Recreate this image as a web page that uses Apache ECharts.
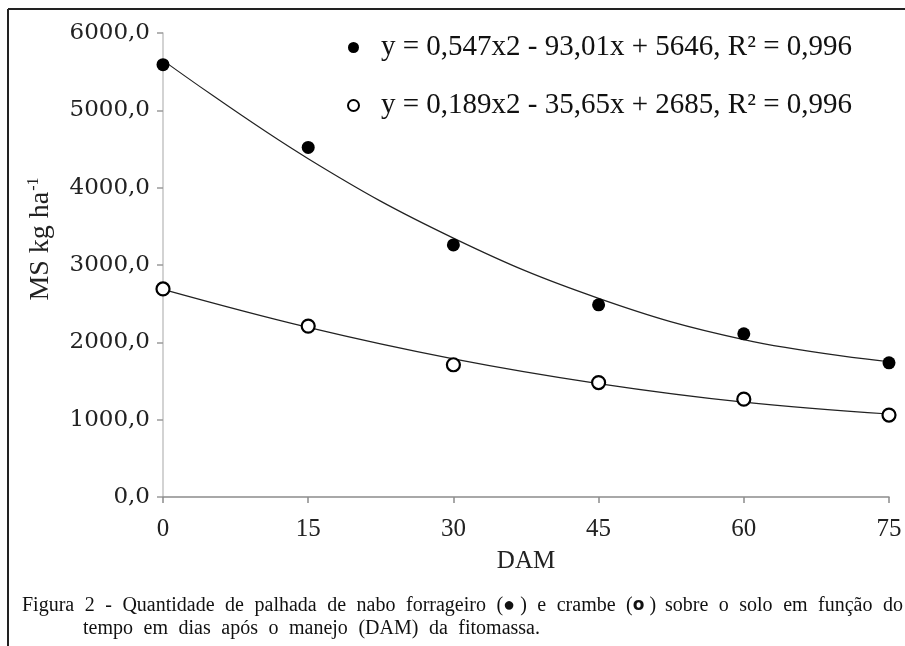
<!DOCTYPE html>
<html>
<head>
<meta charset="utf-8">
<script src="https://cdn.jsdelivr.net/npm/echarts@6/dist/echarts.min.js"></script>
<style>
  html, body { margin: 0; padding: 0; background: #fff; }
  #chart { width: 905px; height: 646px; }
</style>
</head>
<body>
<div id="chart"></div>
<script>
// ---- data ----
const days = [0, 15, 30, 45, 60, 75];
const naboObserved = [5590, 4520, 3260, 2485, 2110, 1735];
const crambeObserved = [2690, 2210, 1710, 1480, 1265, 1060];
const naboTrend = [5646, 4374, 3348, 2569, 2036, 1749];
const crambeTrend = [2685, 2193, 1786, 1466, 1226, 1073];
const naboLabel = 'y = 0,547x2 - 93,01x + 5646, R² = 0,996';
const crambeLabel = 'y = 0,189x2 - 35,65x + 2685, R² = 0,996';
const xTicks = [0, 15, 30, 45, 60, 75];
const yTicks = [0, 1000, 2000, 3000, 4000, 5000, 6000];
const xTitle = 'DAM';
const yTitleMain = 'MS kg ha';
const yTitleSup = '-1';
const captionLine1 = 'Figura 2 - Quantidade de palhada de nabo forrageiro (●\u00a0) e crambe (o\u00a0) sobre o solo em função do';
const captionLine2 = 'tempo em dias após o manejo (DAM) da fitomassa.';

const pairs = (xs, ys) => xs.map((x, i) => [x, ys[i]]);
const SERIF = '"Liberation Serif", "Times New Roman", serif';

// caption words laid out (justified) using canvas text measurement
const captionFont = 20;
const ctx = document.createElement('canvas').getContext('2d');
ctx.font = captionFont + 'px ' + SERIF;
function captionWords(line, x0, x1, y) {
  const words = line.split(' ');
  const widths = words.map(w => ctx.measureText(w).width);
  const total = widths.reduce((a, b) => a + b, 0);
  const gap = (x1 - x0 - total) / (words.length - 1);
  let x = x0;
  return words.map((w, i) => {
    const isBoldO = w === '(o\u00a0)';
    const el = {
      type: 'text', left: x, top: y - captionFont / 2 - 2, silent: true,
      style: isBoldO ? {
        text: '{n|(}{b|o}{n|\u00a0)}',
        rich: {
          n: { fontFamily: SERIF, fontSize: captionFont, fill: '#111' },
          b: { fontFamily: '"DejaVu Sans", sans-serif', fontWeight: 'bold', fontSize: captionFont - 3, fill: '#111' }
        }
      } : { text: w, fontFamily: SERIF, fontSize: captionFont, fill: '#111' }
    };
    x += widths[i] + gap;
    return el;
  });
}

const chart = echarts.init(document.getElementById('chart'), null, { renderer: 'canvas' });
chart.setOption({
  backgroundColor: '#fff',
  animation: false,
  grid: { left: 163, right: 16, top: 33, bottom: 149, containLabel: false },
  legend: {
    orient: 'vertical',
    left: 347, top: 33,
    padding: 0,
    itemGap: 29,
    itemWidth: 11, itemHeight: 11,
    selectedMode: false,
    data: [
      { name: naboLabel, icon: 'circle', itemStyle: { color: '#000', borderWidth: 0 } },
      { name: crambeLabel, icon: 'emptyCircle', itemStyle: { color: '#000', borderColor: '#000', borderWidth: 1 } }
    ],
    textStyle: { fontFamily: SERIF, fontSize: 29, color: '#111', padding: [0, 0, 0, 17] }
  },
  xAxis: {
    type: 'value', min: xTicks[0], max: xTicks[xTicks.length - 1], interval: 15,
    name: xTitle, nameLocation: 'middle', nameGap: 52,
    nameTextStyle: { fontFamily: SERIF, fontSize: 25, color: '#222' },
    axisLine: { show: true, lineStyle: { color: '#8c8c8c', width: 1.5 } },
    axisTick: { show: true, length: 6, lineStyle: { color: '#8c8c8c', width: 1.5 } },
    axisLabel: { fontFamily: SERIF, fontSize: 25, color: '#222', margin: 20,
      formatter: v => xTicks.includes(v) ? String(v) : '' },
    splitLine: { show: false }
  },
  yAxis: {
    type: 'value', min: yTicks[0], max: yTicks[yTicks.length - 1], interval: 1000,
    name: '{m|' + yTitleMain + '}{s|' + yTitleSup + '}',
    nameLocation: 'middle', nameGap: 108,
    nameTextStyle: {
      padding: [0, 0, 0, 52],
      rich: {
        m: { fontFamily: SERIF, fontSize: 28, color: '#222' },
        s: { fontFamily: SERIF, fontSize: 16, color: '#222', padding: [0, 0, 13, 1] }
      }
    },
    axisLine: { show: true, lineStyle: { color: '#c4c4c4', width: 1.5 } },
    axisTick: { show: true, length: 6, lineStyle: { color: '#9a9a9a', width: 1.5 } },
    axisLabel: { fontFamily: '"DejaVu Serif", serif', fontSize: 23, color: '#222', margin: 13,
      formatter: v => v.toFixed(1).replace('.', ',') },
    splitLine: { show: false }
  },
  series: [
    {
      name: 'nabo-trend', type: 'line', data: pairs(days, naboTrend),
      smooth: 0.4, showSymbol: false, silent: true, z: 2,
      lineStyle: { color: '#222', width: 1.2 }
    },
    {
      name: 'crambe-trend', type: 'line', data: pairs(days, crambeTrend),
      smooth: 0.4, showSymbol: false, silent: true, z: 2,
      lineStyle: { color: '#222', width: 1.2 }
    },
    {
      name: naboLabel, type: 'scatter', data: pairs(days, naboObserved),
      symbol: 'circle', symbolSize: 13, z: 5,
      itemStyle: { color: '#000', opacity: 1 }
    },
    {
      name: crambeLabel, type: 'scatter', data: pairs(days, crambeObserved),
      symbol: 'circle', symbolSize: 13, z: 5,
      itemStyle: { color: '#fff', borderColor: '#000', borderWidth: 2.2, opacity: 1 }
    }
  ],
  graphic: [
    { type: 'line', silent: true, shape: { x1: 8, y1: 9, x2: 905, y2: 9 }, style: { stroke: '#222', lineWidth: 2 } },
    { type: 'line', silent: true, shape: { x1: 8, y1: 9, x2: 8, y2: 646 }, style: { stroke: '#222', lineWidth: 2 } },
    ...captionWords(captionLine1, 22, 903, 608),
    ...captionWords(captionLine2, 83, 540, 631)
  ]
});
</script>
</body>
</html>
